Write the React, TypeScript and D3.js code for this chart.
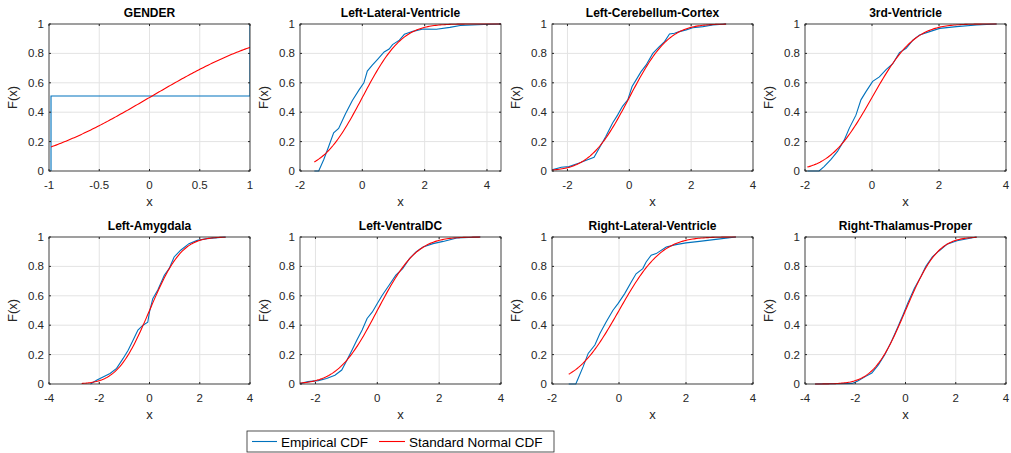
import React from "react";
import * as d3 from "d3";

// ---------- data ----------
const titles = [
  "GENDER",
  "Left-Lateral-Ventricle",
  "Left-Cerebellum-Cortex",
  "3rd-Ventricle",
  "Left-Amygdala",
  "Left-VentralDC",
  "Right-Lateral-Ventricle",
  "Right-Thalamus-Proper",
];

const xDomains: [number, number][] = [
  [-1, 1],
  [-2, 4.45],
  [-2.5, 4],
  [-2, 4],
  [-4, 4],
  [-2.5, 4],
  [-2, 4],
  [-4, 4],
];

const xTicks: number[][] = [
  [-1, -0.5, 0, 0.5, 1],
  [-2, 0, 2, 4],
  [-2, 0, 2, 4],
  [-2, 0, 2, 4],
  [-4, -2, 0, 2, 4],
  [-2, 0, 2, 4],
  [-2, 0, 2, 4],
  [-4, -2, 0, 2, 4],
];

const yTicks = [0, 0.2, 0.4, 0.6, 0.8, 1];

// data range (min, max) of each standardized variable
const dataRanges: [number, number][] = [
  [-0.98, 1.0],
  [-1.54, 4.45],
  [-2.55, 3.13],
  [-1.93, 3.72],
  [-2.7, 3.03],
  [-2.55, 3.33],
  [-1.5, 3.49],
  [-3.6, 2.83],
];

// empirical CDF points: [x, F(x)]
const ecdfGender: [number, number][] = [
  [-0.98, 0], [-0.98, 0.51], [1.0, 0.51], [1.0, 1.0],
];
const ecdfLeftLatVent: [number, number][] = [
  [-1.54, 0], [-1.4, 0], [-1.24, 0.077], [-1.08, 0.167], [-0.92, 0.26], [-0.76, 0.29],
  [-0.54, 0.39], [-0.32, 0.48], [-0.11, 0.55], [0.05, 0.6], [0.16, 0.68], [0.32, 0.72],
  [0.49, 0.76], [0.7, 0.81], [0.86, 0.83], [0.97, 0.86], [1.19, 0.89], [1.35, 0.93],
  [1.62, 0.95], [1.95, 0.966], [2.38, 0.964], [2.81, 0.977], [3.14, 0.99], [3.9, 0.997], [4.45, 1.0],
];
const ecdfLeftCereb: [number, number][] = [
  [-2.55, 0.005], [-2.2, 0.025], [-1.95, 0.03], [-1.62, 0.054], [-1.35, 0.077], [-1.14, 0.093],
  [-0.97, 0.156], [-0.76, 0.235], [-0.54, 0.326], [-0.38, 0.38], [-0.22, 0.44], [-0.05, 0.484],
  [0.09, 0.575], [0.22, 0.62], [0.38, 0.676], [0.54, 0.72], [0.76, 0.8], [0.97, 0.846],
  [1.14, 0.88], [1.3, 0.932], [1.46, 0.937], [1.62, 0.948], [1.84, 0.96], [2.05, 0.975],
  [2.38, 0.982], [2.7, 0.993], [3.13, 1.0],
];
const ecdf3rdVent: [number, number][] = [
  [-1.93, 0], [-1.58, 0], [-1.43, 0.03], [-1.23, 0.077], [-1.03, 0.133], [-0.83, 0.21],
  [-0.68, 0.29], [-0.48, 0.38], [-0.33, 0.484], [-0.18, 0.54], [0.02, 0.61], [0.22, 0.64],
  [0.42, 0.69], [0.62, 0.73], [0.82, 0.805], [1.02, 0.835], [1.22, 0.89], [1.42, 0.925],
  [1.72, 0.948], [2.02, 0.97], [2.52, 0.982], [3.12, 0.993], [3.72, 1.0],
];
const ecdfLeftAmyg: [number, number][] = [
  [-2.35, 0], [-2.09, 0.027], [-1.83, 0.05], [-1.57, 0.072], [-1.31, 0.106], [-1.05, 0.174],
  [-0.85, 0.23], [-0.65, 0.3], [-0.46, 0.367], [-0.26, 0.4], [-0.07, 0.42], [0.0, 0.49],
  [0.13, 0.58], [0.33, 0.64], [0.59, 0.74], [0.78, 0.785], [0.98, 0.864], [1.24, 0.91],
  [1.57, 0.955], [1.9, 0.977], [2.29, 0.989], [3.03, 1.0],
];
const ecdfLeftVentralDC: [number, number][] = [
  [-2.55, 0], [-2.24, 0.016], [-1.91, 0.023], [-1.64, 0.038], [-1.37, 0.06], [-1.15, 0.095],
  [-0.98, 0.163], [-0.82, 0.23], [-0.66, 0.3], [-0.49, 0.367], [-0.33, 0.446], [-0.16, 0.49],
  [0.0, 0.547], [0.16, 0.604], [0.38, 0.672], [0.6, 0.74], [0.82, 0.785], [1.04, 0.853],
  [1.26, 0.9], [1.48, 0.932], [1.8, 0.955], [2.13, 0.97], [2.57, 0.993], [3.33, 1.0],
];
const ecdfRightLatVent: [number, number][] = [
  [-1.5, 0], [-1.29, 0], [-1.22, 0.038], [-1.07, 0.118], [-0.92, 0.208], [-0.72, 0.265],
  [-0.57, 0.344], [-0.38, 0.423], [-0.18, 0.502], [-0.03, 0.547], [0.17, 0.615], [0.37, 0.695],
  [0.51, 0.75], [0.71, 0.785], [0.81, 0.83], [0.96, 0.876], [1.11, 0.887], [1.41, 0.932],
  [1.7, 0.948], [2.0, 0.96], [2.4, 0.97], [2.89, 0.984], [3.49, 1.0],
];
const ecdfRightThal: [number, number][] = [
  [-3.6, 0], [-2.12, 0.004], [-1.9, 0.02], [-1.6, 0.05], [-1.34, 0.075], [-1.08, 0.13],
  [-0.82, 0.2], [-0.56, 0.29], [-0.3, 0.39], [-0.2, 0.43], [-0.1, 0.47], [0.09, 0.55],
  [0.35, 0.65], [0.61, 0.73], [0.81, 0.8], [1.07, 0.865], [1.33, 0.905], [1.65, 0.95],
  [2.05, 0.975], [2.83, 1.0],
];

const ecdfs = [
  ecdfGender, ecdfLeftLatVent, ecdfLeftCereb, ecdf3rdVent,
  ecdfLeftAmyg, ecdfLeftVentralDC, ecdfRightLatVent, ecdfRightThal,
];

const legendLabels = ["Empirical CDF", "Standard Normal CDF"];

// ---------- helpers ----------
function erf(x: number) {
  const s = x < 0 ? -1 : 1;
  const a = Math.abs(x);
  const t = 1 / (1 + 0.3275911 * a);
  const y =
    1 -
    (((((1.061405429 * t - 1.453152027) * t) + 1.421413741) * t - 0.284496736) * t + 0.254829592) *
      t *
      Math.exp(-a * a);
  return s * y;
}
const normCdf = (x: number) => 0.5 * (1 + erf(x / Math.SQRT2));

// ---------- layout ----------
const W = 1011;
const H = 453;
const plotW = 201;
const plotH = 147;
const lefts = [49, 300, 552, 805];
const tops = [24, 237];

const FONT = "'Liberation Sans', Arial, Helvetica, sans-serif";
const AXC = "#262626";
const BLUE = "#0072BD";
const RED = "#FF0000";

function Panel({ i }: { i: number }) {
  const col = i % 4;
  const row = Math.floor(i / 4);
  const left = lefts[col];
  const top = tops[row];
  const x = d3.scaleLinear().domain(xDomains[i]).range([left, left + plotW]);
  const y = d3.scaleLinear().domain([0, 1]).range([top + plotH, top]);
  const line = d3
    .line<[number, number]>()
    .x((d) => x(d[0]))
    .y((d) => y(d[1]));
  const [r0, r1] = dataRanges[i];
  const n = 120;
  const normPts: [number, number][] = d3
    .range(n + 1)
    .map((k) => r0 + ((r1 - r0) * k) / n)
    .map((v) => [v, normCdf(v)]);
  const clipId = `clip${i}`;
  const tickLen = 2;
  return (
    <g>
      <defs>
        <clipPath id={clipId}>
          <rect x={left} y={top - 1} width={plotW} height={plotH + 2} />
        </clipPath>
      </defs>
      <rect x={left} y={top} width={plotW} height={plotH} fill="#fff" />
      {xTicks[i].map((t) => (
        <line key={"gx" + t} x1={x(t)} x2={x(t)} y1={top} y2={top + plotH} stroke="#e3e3e3" strokeWidth={1} />
      ))}
      {yTicks.map((t) => (
        <line key={"gy" + t} x1={left} x2={left + plotW} y1={y(t)} y2={y(t)} stroke="#e3e3e3" strokeWidth={1} />
      ))}
      <g clipPath={`url(#${clipId})`}>
        <path d={line(ecdfs[i]) || ""} fill="none" stroke={BLUE} strokeWidth={1.1} />
        <path d={line(normPts) || ""} fill="none" stroke={RED} strokeWidth={1.1} />
      </g>
      <rect x={left} y={top} width={plotW} height={plotH} fill="none" stroke={AXC} strokeWidth={0.8} />
      {xTicks[i].map((t) => (
        <g key={"tx" + t}>
          <line x1={x(t)} x2={x(t)} y1={top + plotH} y2={top + plotH - tickLen} stroke={AXC} />
          <line x1={x(t)} x2={x(t)} y1={top} y2={top + tickLen} stroke={AXC} />
          <text x={x(t)} y={top + plotH + 18} textAnchor="middle" fontSize={11.5} fill={AXC} fontFamily={FONT}>
            {String(t)}
          </text>
        </g>
      ))}
      {yTicks.map((t) => (
        <g key={"ty" + t}>
          <line x1={left} x2={left + tickLen} y1={y(t)} y2={y(t)} stroke={AXC} />
          <line x1={left + plotW} x2={left + plotW - tickLen} y1={y(t)} y2={y(t)} stroke={AXC} />
          <text x={left - 5} y={y(t) + 4} textAnchor="end" fontSize={11.5} fill={AXC} fontFamily={FONT}>
            {String(t)}
          </text>
        </g>
      ))}
      <text x={left + plotW / 2} y={top - 7} textAnchor="middle" fontSize={12} fontWeight="bold" fill="#000" fontFamily={FONT}>
        {titles[i]}
      </text>
      <text x={left + plotW / 2} y={top + plotH + 35} textAnchor="middle" fontSize={13} fill={AXC} fontFamily={FONT}>
        x
      </text>
      <text
        transform={`translate(${left - 32},${top + plotH / 2}) rotate(-90)`}
        textAnchor="middle"
        fontSize={13}
        fill={AXC}
        fontFamily={FONT}
      >
        F(x)
      </text>
    </g>
  );
}

export default function App() {
  const lx = 247;
  const ly = 431;
  return (
    <svg width={W} height={H} style={{ position: "absolute", left: 0, top: 0, background: "#fff" }}>
      <rect x={0} y={0} width={W} height={H} fill="#fff" />
      {titles.map((_, i) => (
        <Panel key={i} i={i} />
      ))}
      <g>
        <rect x={lx} y={ly} width={307} height={21} fill="#fff" stroke={AXC} strokeWidth={0.8} />
        <line x1={lx + 5} x2={lx + 30} y1={ly + 10.5} y2={ly + 10.5} stroke={BLUE} strokeWidth={1.1} />
        <text x={lx + 34} y={ly + 15.5} fontSize={13.5} fill="#000" fontFamily={FONT}>
          {legendLabels[0]}
        </text>
        <line x1={lx + 132} x2={lx + 158} y1={ly + 10.5} y2={ly + 10.5} stroke={RED} strokeWidth={1.1} />
        <text x={lx + 162} y={ly + 15.5} fontSize={13.5} fill="#000" fontFamily={FONT}>
          {legendLabels[1]}
        </text>
      </g>
    </svg>
  );
}
